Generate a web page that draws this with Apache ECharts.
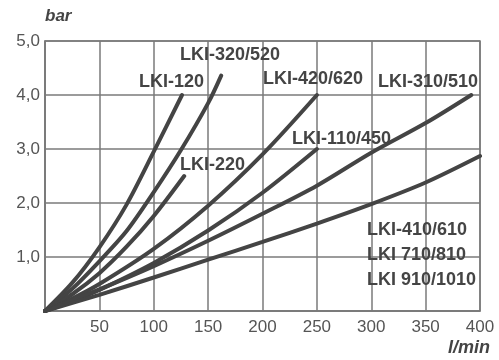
<!DOCTYPE html>
<html>
<head>
<meta charset="utf-8">
<script src="https://cdn.jsdelivr.net/npm/echarts@6/dist/echarts.min.js"></script>
<style>
html,body{margin:0;padding:0;background:#fff;}
#c{width:499px;height:360px;}
</style>
</head>
<body>
<div id="c"></div>
<script>
// Data (flow in l/min, pressure drop in bar)
const seriesNames = ['LKI-120','LKI-320/520','LKI-220','LKI-420/620','LKI-110/450','LKI-310/510','LKI-410/610'];
const flow120 = [0,25,50,75,100,126];
const bar120  = [0,0.52,1.18,1.97,2.95,4.0];
const flow320 = [0,25,50,75,100,125,150,162];
const bar320  = [0,0.41,0.92,1.48,2.2,2.98,3.85,4.36];
const flow220 = [0,25,50,75,100,128];
const bar220  = [0,0.31,0.7,1.19,1.76,2.5];
const flow420 = [0,25,50,100,150,200,250];
const bar420  = [0,0.23,0.5,1.15,1.95,2.9,4.0];
const flow110 = [0,25,50,100,150,200,250];
const bar110  = [0,0.18,0.39,0.89,1.49,2.19,3.0];
const flow310 = [0,50,100,150,200,250,300,350,392];
const bar310  = [0,0.4,0.83,1.3,1.8,2.32,2.93,3.48,4.0];
const flow410 = [0,50,100,150,200,250,300,350,400];
const bar410  = [0,0.3,0.62,0.95,1.28,1.62,1.98,2.38,2.87];
const yTicks = ['', '1,0','2,0','3,0','4,0','5,0'];
const curveLabels = ['LKI-120','LKI-320/520','LKI-220','LKI-420/620','LKI-110/450','LKI-310/510','LKI-410/610','LKI 710/810','LKI 910/1010'];

const flows = [flow120,flow320,flow220,flow420,flow110,flow310,flow410];
const bars = [bar120,bar320,bar220,bar420,bar110,bar310,bar410];

const chart = echarts.init(document.getElementById('c'), null, {renderer:'canvas'});
const gridColor = '#7a7a7a';
const lineColor = '#444444';
const textFont = '"Liberation Sans", Arial, sans-serif';

const series = seriesNames.map((n,i)=>({
  name:n, type:'line', smooth:0.3, symbol:'none',
  data: flows[i].map((x,j)=>[x,bars[i][j]]),
  lineStyle:{color:lineColor,width:4,cap:'round'},
  z:3
}));

function lbl(text,x,yc){return {type:'text',left:x,top:yc-9,style:{text:text,fill:'#444',font:'bold 18px '+textFont},z:10};}

chart.setOption({
  animation:false,
  grid:{left:45,right:19,top:41,bottom:49,show:true,borderColor:gridColor,borderWidth:1.5,backgroundColor:'transparent'},
  xAxis:{type:'value',min:0,max:400,interval:50,
    axisLine:{show:true,lineStyle:{color:gridColor,width:1.5}},
    axisTick:{show:false},
    splitLine:{show:true,lineStyle:{color:gridColor,width:1.5}},
    axisLabel:{color:'#555',fontSize:17,fontFamily:textFont,margin:8,
      formatter:v=>v===0?'':String(v)}},
  yAxis:{type:'value',min:0,max:5,interval:1,
    axisLine:{show:true,lineStyle:{color:gridColor,width:1.5}},
    axisTick:{show:false},
    splitLine:{show:true,lineStyle:{color:gridColor,width:1.5}},
    axisLabel:{color:'#555',fontSize:17,fontFamily:textFont,margin:5,
      formatter:v=>yTicks[Math.round(v)]}},
  series:series,
  graphic:[
    {type:'text',left:45,top:8,style:{text:'bar',fill:'#444',font:'italic bold 17px '+textFont},z:10},
    {type:'text',right:9,top:339,style:{text:'l/min',fill:'#444',font:'italic bold 18px '+textFont},z:10},
    lbl(curveLabels[0],139,82),
    lbl(curveLabels[1],180,55),
    lbl(curveLabels[2],180,165),
    lbl(curveLabels[3],263,79),
    lbl(curveLabels[4],292,139),
    lbl(curveLabels[5],378,82),
    lbl(curveLabels[6],367,230),
    lbl(curveLabels[7],367,255),
    lbl(curveLabels[8],367,280)
  ]
});
</script>
</body>
</html>
